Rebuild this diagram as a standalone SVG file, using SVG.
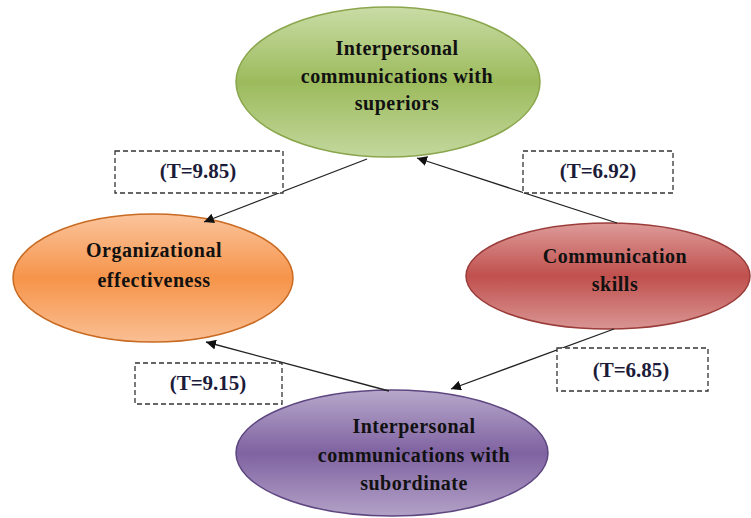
<svg xmlns="http://www.w3.org/2000/svg" width="751" height="518" viewBox="0 0 751 518">
<style>
.node text{font-family:"Liberation Serif","Times New Roman",serif;font-weight:bold;font-size:20px;letter-spacing:0.5px;fill:#111;text-anchor:middle}
.lbl rect{fill:#fff;stroke:#333;stroke-width:1.3;stroke-dasharray:5 3}
.lbl text{font-family:"Liberation Serif","Times New Roman",serif;font-weight:bold;font-size:21px;fill:#1c1c3a;text-anchor:middle}
.conn line{stroke:#222;stroke-width:1.3;marker-end:url(#ah)}
</style>
<defs>
<marker id="ah" viewBox="0 0 10 10" refX="10" refY="5" markerWidth="10" markerHeight="10" markerUnits="userSpaceOnUse" orient="auto">
<path d="M0,0 L10,5 L0,10 z" fill="#111"/>
</marker>
<linearGradient id="gG" x1="0" y1="0" x2="0" y2="1">
<stop offset="0" stop-color="#c9dca6"/><stop offset="0.5" stop-color="#9cbb5c"/><stop offset="1" stop-color="#c3d79d"/>
</linearGradient>
<linearGradient id="gO" x1="0" y1="0" x2="0" y2="1">
<stop offset="0" stop-color="#fbc49c"/><stop offset="0.5" stop-color="#f6944a"/><stop offset="1" stop-color="#fabf93"/>
</linearGradient>
<linearGradient id="gR" x1="0" y1="0" x2="0" y2="1">
<stop offset="0" stop-color="#dd9b99"/><stop offset="0.5" stop-color="#c0504d"/><stop offset="1" stop-color="#d99593"/>
</linearGradient>
<linearGradient id="gP" x1="0" y1="0" x2="0" y2="1">
<stop offset="0" stop-color="#b7a8cb"/><stop offset="0.5" stop-color="#7f62a1"/><stop offset="1" stop-color="#b3a2c7"/>
</linearGradient>
</defs>
<rect width="751" height="518" fill="#fff"/>

<g id="n-superiors" class="node">
<ellipse cx="388" cy="82" rx="152" ry="75" fill="url(#gG)" stroke="#8aa64c" stroke-width="1.5"/>
<text x="397" y="55">Interpersonal</text>
<text x="397" y="83">communications with</text>
<text x="397" y="110">superiors</text>
</g>

<g id="n-org" class="node">
<ellipse cx="153" cy="278" rx="140" ry="64" fill="url(#gO)" stroke="#c96a22" stroke-width="1.5"/>
<text x="154" y="257">Organizational</text>
<text x="154" y="287">effectiveness</text>
</g>

<g id="n-skills" class="node">
<ellipse cx="608" cy="276" rx="142" ry="53" fill="url(#gR)" stroke="#9a3c3a" stroke-width="1.5"/>
<text x="615" y="263">Communication</text>
<text x="615" y="291">skills</text>
</g>

<g id="n-subordinate" class="node">
<ellipse cx="392" cy="453" rx="156" ry="63" fill="url(#gP)" stroke="#5e4680" stroke-width="1.5"/>
<text x="414" y="433">Interpersonal</text>
<text x="414" y="462">communications with</text>
<text x="414" y="490">subordinate</text>
</g>

<g id="connectors" class="conn">
<line x1="367" y1="159" x2="204" y2="222"/>
<line x1="617" y1="223" x2="417" y2="158"/>
<line x1="389" y1="391" x2="206" y2="342"/>
<line x1="614" y1="329" x2="451" y2="389"/>
</g>

<g id="l-985" class="lbl">
<rect x="115" y="151" width="168" height="42"/>
<text x="198" y="178">(T=9.85)</text>
</g>
<g id="l-692" class="lbl">
<rect x="523" y="151" width="150" height="42"/>
<text x="598" y="178">(T=6.92)</text>
</g>
<g id="l-915" class="lbl">
<rect x="135" y="363" width="147" height="41"/>
<text x="208" y="390">(T=9.15)</text>
</g>
<g id="l-685" class="lbl">
<rect x="557" y="348" width="151" height="43"/>
<text x="631" y="377">(T=6.85)</text>
</g>
</svg>
